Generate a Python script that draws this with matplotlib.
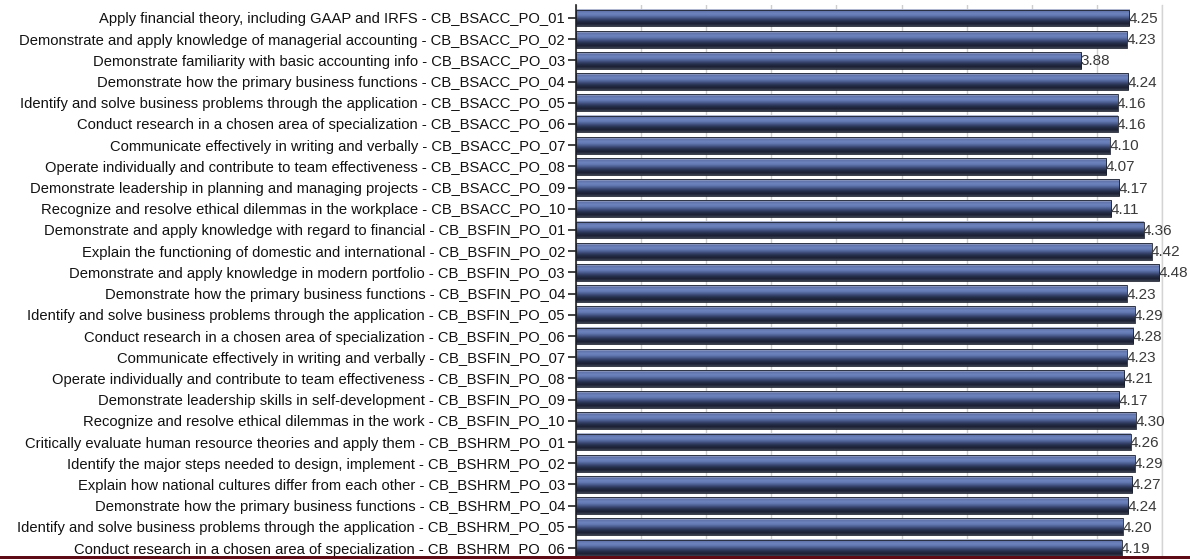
"""Program outcome scores by course objective (horizontal bars, cut off at the bottom)."""

import matplotlib
matplotlib.use("Agg")
import matplotlib.pyplot as plt
import numpy as np
from matplotlib.colors import LinearSegmentedColormap
from matplotlib.patches import Rectangle

plt.rcParams["font.family"] = ["Liberation Sans", "DejaVu Sans"]

OBJECTIVES = [
    "Apply financial theory, including GAAP and IRFS",
    "Demonstrate and apply knowledge of managerial accounting",
    "Demonstrate familiarity with basic accounting info",
    "Demonstrate how the primary business functions",
    "Identify and solve business problems through the application",
    "Conduct research in a chosen area of specialization",
    "Communicate effectively in writing and verbally",
    "Operate individually and contribute to team effectiveness",
    "Demonstrate leadership in planning and managing projects",
    "Recognize and resolve ethical dilemmas in the workplace",
    "Demonstrate and apply knowledge with regard to financial",
    "Explain the functioning of domestic and international",
    "Demonstrate and apply knowledge in modern portfolio",
    "Demonstrate how the primary business functions",
    "Identify and solve business problems through the application",
    "Conduct research in a chosen area of specialization",
    "Communicate effectively in writing and verbally",
    "Operate individually and contribute to team effectiveness",
    "Demonstrate leadership skills in self-development",
    "Recognize and resolve ethical dilemmas in the work",
    "Critically evaluate human resource theories and apply them",
    "Identify the major steps needed to design, implement",
    "Explain how national cultures differ from each other",
    "Demonstrate how the primary business functions",
    "Identify and solve business problems through the application",
    "Conduct research in a chosen area of specialization",
]
CODES = (
    [f"CB_BSACC_PO_{i:02d}" for i in range(1, 11)]
    + [f"CB_BSFIN_PO_{i:02d}" for i in range(1, 11)]
    + [f"CB_BSHRM_PO_{i:02d}" for i in range(1, 7)]
)
SCORES = [
    4.25, 4.23, 3.88, 4.24, 4.16, 4.16, 4.10, 4.07, 4.17, 4.11,
    4.36, 4.42, 4.48, 4.23, 4.29, 4.28, 4.23, 4.21, 4.17, 4.30,
    4.26, 4.29, 4.27, 4.24, 4.20, 4.19,
]

# top -> bottom shading of each bar
BAR_SHADES = ["#c3c9da", "#5d70a8", "#6e84be", "#6379b2", "#4b5b8e",
              "#333f66", "#232b45", "#1b2033", "#3a3f50"]
bar_cmap = LinearSegmentedColormap.from_list("bar", BAR_SHADES)

W, H = 1190, 559
fig = plt.figure(figsize=(W / 100, H / 100), dpi=100)

row0_px, row_px, top_px = 18, 21.2, 5
y_top = -(row0_px - top_px) / row_px
y_bot = (H - row0_px) / row_px
ax = fig.add_axes([576 / W, 0, (1162 - 576) / W, 1 - top_px / H])

labels = [f"{o} - {c}" for o, c in zip(OBJECTIVES, CODES)]
ypos = np.arange(len(SCORES))
bar_h = 0.8
grad = np.linspace(0, 1, 64).reshape(-1, 1)

for y, v in zip(ypos, SCORES):
    ax.imshow(grad, cmap=bar_cmap, aspect="auto", origin="upper",
              extent=(0, v, y + bar_h / 2, y - bar_h / 2), zorder=2,
              interpolation="bilinear")
    ax.add_patch(Rectangle((0, y - bar_h / 2), v, bar_h, fill=False,
                           edgecolor="#1a1f2e", linewidth=0.6, zorder=3))
    ax.text(v - 0.005, y + 0.05, f"{v:.2f}", va="center", ha="left",
            fontsize=11, color="#3a3a3a", zorder=4)

ax.set_xlim(0, 4.5)
ax.set_ylim(y_bot, y_top)
ax.set_xticks(np.arange(0, 4.51, 0.5))
ax.xaxis.grid(True, color="#cfcfcf", linewidth=1.0, zorder=0)
ax.axvline(4.5, color="#d4d4d4", linewidth=1.0, clip_on=False, zorder=0)
ax.set_axisbelow(True)
ax.tick_params(axis="x", length=0, labelbottom=False)
ax.set_yticks(ypos, labels)
ax.tick_params(axis="y", length=6, width=1.2, color="#222222", pad=2,
               labelsize=10.65, labelcolor="#111111")
for side in ("top", "bottom", "right"):
    ax.spines[side].set_visible(False)
ax.spines["left"].set_color("#222222")
ax.spines["left"].set_linewidth(1.2)

# dark red strip along the bottom edge of the screenshot
fig.patches.append(Rectangle((0, 0), 1, 3.5 / H, transform=fig.transFigure,
                             facecolor="#5e0b16", edgecolor="none", zorder=10))

fig.savefig("out.png", dpi=100)
